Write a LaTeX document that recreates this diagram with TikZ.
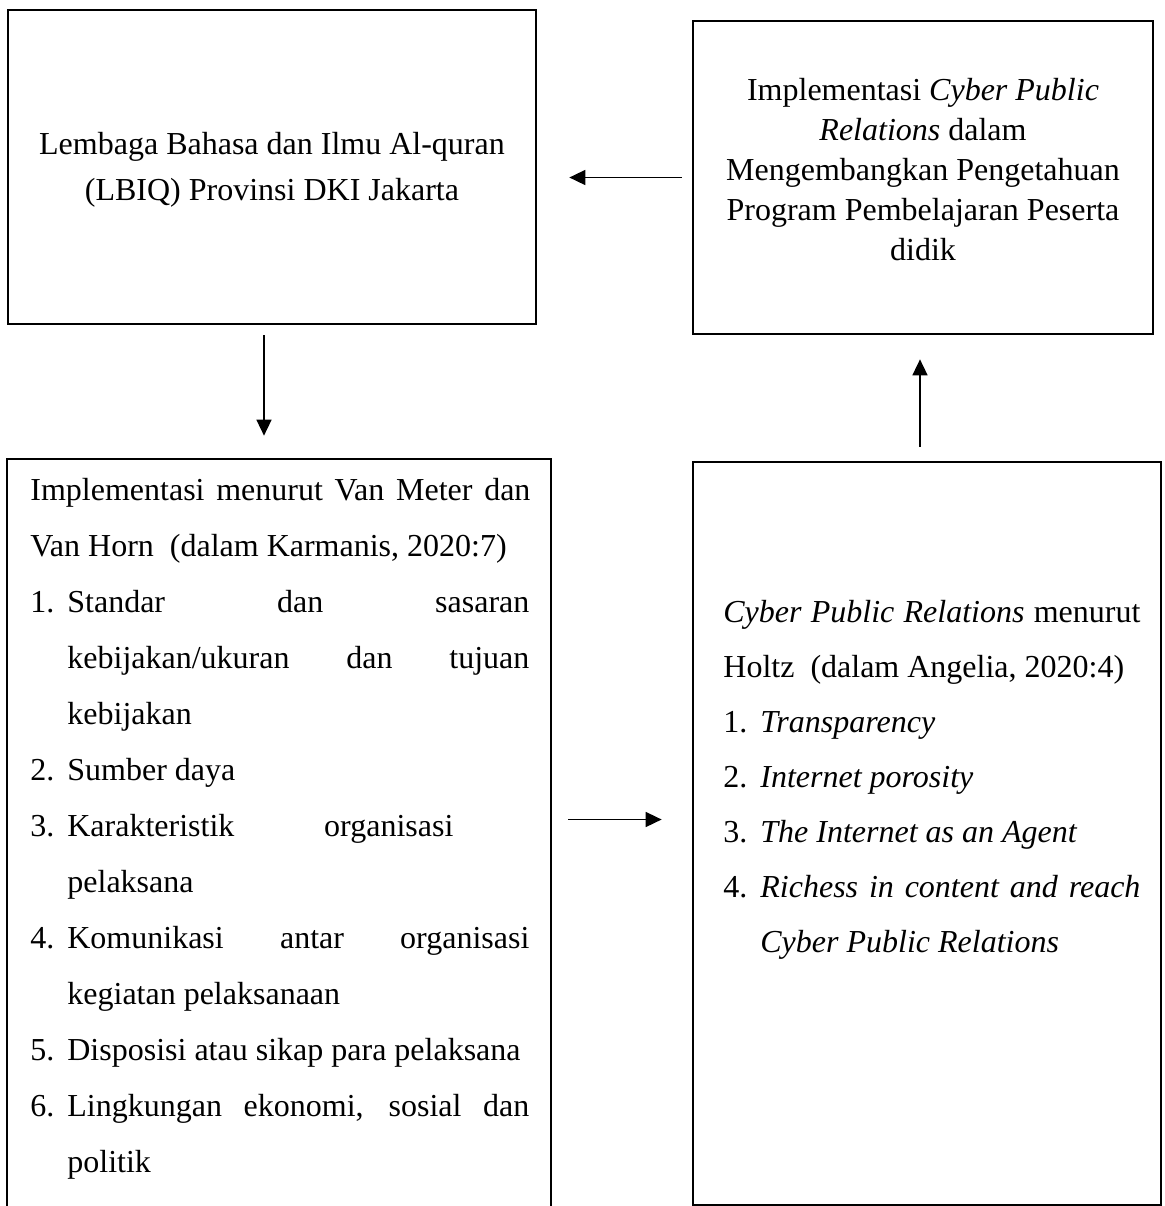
\documentclass[tikz,border=0pt]{standalone}
\usepackage{fontspec}
\setmainfont{Liberation Serif}
\usetikzlibrary{arrows.meta,positioning}

\newcommand{\itemno}[1]{\makebox[18.5pt][l]{#1}}

\tikzset{
  box/.style={draw, line width=1.35pt, inner sep=0pt},
  arr/.style={-{Triangle[width=7.5pt,length=8pt]}, line width=0.8pt},
  txt/.style={inner sep=0pt, font=\fontsize{16}{28}\selectfont},
}

\begin{document}
\begin{tikzpicture}[x=0.5pt,y=-0.5pt]
\clip (0,0) rectangle (1165,1206);

% Boxes
\node[box, minimum width=264pt, minimum height=157pt] (lbiq) at (272,167) {};
\node[box, minimum width=230pt, minimum height=156.5pt] (impl) at (923,177.5) {};
\node[box, minimum width=272pt, minimum height=380.5pt] (vmvh) at (279,839.5) {};
\node[box, minimum width=234pt, minimum height=371.5pt] (holtz) at (927,833.5) {};

% Top texts
\node[txt, align=center, font=\fontsize{16}{23}\selectfont] (lbiqtext) at ([yshift=-1.5pt]lbiq.center)
  {Lembaga Bahasa dan Ilmu Al-quran\\(LBIQ) Provinsi DKI Jakarta};
\node[txt, align=center, font=\fontsize{16}{20}\selectfont] (impltext) at ([yshift=4pt]impl.center)
  {Implementasi \textit{Cyber Public}\\\textit{Relations} dalam\\Mengembangkan Pengetahuan\\Program Pembelajaran Peserta\\didik};

% Van Meter dan Van Horn
\node[txt, anchor=north west, align=left] (vmvhtext) at (30,478) {%
\makebox[250pt][s]{Implementasi menurut Van Meter dan}\\
Van Horn\ \ (dalam Karmanis, 2020:7)\\
\itemno{1.}\makebox[231pt][s]{Standar dan sasaran}\\
\itemno{}\makebox[231pt][s]{kebijakan/ukuran dan tujuan}\\
\itemno{}kebijakan\\
\itemno{2.}Sumber daya\\
\itemno{3.}\makebox[193pt][s]{Karakteristik organisasi}\\
\itemno{}pelaksana\\
\itemno{4.}\makebox[231pt][s]{Komunikasi antar organisasi}\\
\itemno{}kegiatan pelaksanaan\\
\itemno{5.}Disposisi atau sikap para pelaksana\\
\itemno{6.}\makebox[231pt][s]{Lingkungan ekonomi, sosial dan}\\
\itemno{}politik};

% Holtz
\node[txt, anchor=north west, align=left, font=\fontsize{16}{27.5}\selectfont] (holtztext) at (723,600) {%
\makebox[208.5pt][s]{\textit{Cyber Public Relations} menurut}\\
Holtz\ \ (dalam Angelia, 2020:4)\\
\itemno{1.}\textit{Transparency}\\
\itemno{2.}\textit{Internet porosity}\\
\itemno{3.}\textit{The Internet as an Agent}\\
\itemno{4.}\makebox[190pt][s]{\textit{Richess in content and reach}}\\
\itemno{}\textit{Cyber Public Relations}};

% Arrows
\draw[arr, shorten <=5pt, shorten >=16pt] (impl.west) -- (impl.west -| lbiq.east);
\draw[arr, shorten <=5pt, shorten >=11pt] ([xshift=-4pt]lbiq.south) -- ([xshift=-4pt]lbiq.south |- vmvh.north);
\draw[arr, shorten <=7pt, shorten >=12pt] ([xshift=-3.5pt]holtz.north) -- ([xshift=-3.5pt]holtz.north |- impl.south);
\draw[arr, shorten <=8pt, shorten >=15pt] ([yshift=10pt]vmvh.east) -- ([yshift=10pt]vmvh.east -| holtz.west);

\end{tikzpicture}
\end{document}
